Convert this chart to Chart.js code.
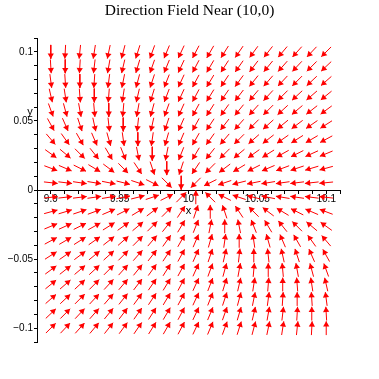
<!DOCTYPE html>
<html><head><meta charset="utf-8">
<script src="https://cdn.jsdelivr.net/npm/chart.js@4/dist/chart.umd.min.js"></script>
<style>html,body{margin:0;padding:0;background:#fff}#wrap{width:379px;height:379px;position:relative}</style>
</head><body><div id="wrap"><canvas id="c"></canvas></div>
<script>
const chartTitle = 'Direction Field Near (10,0)';
const xAxisLabel = 'x';
const yAxisLabel = 'y';
const xRange = [9.89, 10.11];
const yRange = [-0.11, 0.11];
const minorStep = 0.01;
const xMajorTicks = [9.9, 9.95, 10, 10.05, 10.1];
const xTickLabels = ['9.9', '9.95', '10', '10.05', '10.1'];
const yMajorTicks = [0.1, 0.05, 0, -0.05, -0.1];
const yTickLabels = ['0.1', '0.05', '0', '\u22120.05', '\u22120.1'];

// arrow grid (columns and rows)
const xGrid = [9.9, 9.9105, 9.9211, 9.9316, 9.9421, 9.9526, 9.9632, 9.9737, 9.9842, 9.9947,
               10.0053, 10.0158, 10.0263, 10.0368, 10.0474, 10.0579, 10.0684, 10.0789, 10.0895, 10.1];
const yGrid = [0.1, 0.0895, 0.0789, 0.0684, 0.0579, 0.0474, 0.0368, 0.0263, 0.0158, 0.0053,
               -0.0053, -0.0158, -0.0263, -0.0368, -0.0474, -0.0579, -0.0684, -0.0789, -0.0895, -0.1];

// direction components per row (top row first): horizontal part per column, vertical part per row
const fieldU = [
  [0,-1,-2,-3,-4,-5,-6,-7,-8,-9,-10,-11,-12,-13,-14,-15,-16,-17,-18,-19],
  [1,0,-1,-2,-3,-4,-5,-6,-7,-8,-9,-10,-11,-12,-13,-14,-15,-16,-17,-18],
  [2,1,0,-1,-2,-3,-4,-5,-6,-7,-8,-9,-10,-11,-12,-13,-14,-15,-16,-17],
  [3,2,1,0,-1,-2,-3,-4,-5,-6,-7,-8,-9,-10,-11,-12,-13,-14,-15,-16],
  [4,3,2,1,0,-1,-2,-3,-4,-5,-6,-7,-8,-9,-10,-11,-12,-13,-14,-15],
  [5,4,3,2,1,0,-1,-2,-3,-4,-5,-6,-7,-8,-9,-10,-11,-12,-13,-14],
  [6,5,4,3,2,1,0,-1,-2,-3,-4,-5,-6,-7,-8,-9,-10,-11,-12,-13],
  [7,6,5,4,3,2,1,0,-1,-2,-3,-4,-5,-6,-7,-8,-9,-10,-11,-12],
  [8,7,6,5,4,3,2,1,0,-1,-2,-3,-4,-5,-6,-7,-8,-9,-10,-11],
  [9,8,7,6,5,4,3,2,1,0,-1,-2,-3,-4,-5,-6,-7,-8,-9,-10],
  [10,9,8,7,6,5,4,3,2,1,0,-1,-2,-3,-4,-5,-6,-7,-8,-9],
  [11,10,9,8,7,6,5,4,3,2,1,0,-1,-2,-3,-4,-5,-6,-7,-8],
  [12,11,10,9,8,7,6,5,4,3,2,1,0,-1,-2,-3,-4,-5,-6,-7],
  [13,12,11,10,9,8,7,6,5,4,3,2,1,0,-1,-2,-3,-4,-5,-6],
  [14,13,12,11,10,9,8,7,6,5,4,3,2,1,0,-1,-2,-3,-4,-5],
  [15,14,13,12,11,10,9,8,7,6,5,4,3,2,1,0,-1,-2,-3,-4],
  [16,15,14,13,12,11,10,9,8,7,6,5,4,3,2,1,0,-1,-2,-3],
  [17,16,15,14,13,12,11,10,9,8,7,6,5,4,3,2,1,0,-1,-2],
  [18,17,16,15,14,13,12,11,10,9,8,7,6,5,4,3,2,1,0,-1],
  [19,18,17,16,15,14,13,12,11,10,9,8,7,6,5,4,3,2,1,0]
];
const fieldV = [-19,-17,-15,-13,-11,-9,-7,-5,-3,-1,1,3,5,7,9,11,13,15,17,19];

// build arrow shafts and heads in data units
const gridStep = (xGrid[xGrid.length - 1] - xGrid[0]) / (xGrid.length - 1);
const arrowLen = gridStep * 0.95;
const headBack = gridStep * 0.24;
const shafts = [], heads = [], headRot = [];
for (let j = 0; j < yGrid.length; j++) {
  for (let i = 0; i < xGrid.length; i++) {
    const u = fieldU[j][i], v = fieldV[j];
    const m = Math.hypot(u, v);
    const ux = u / m, uy = v / m;
    const cx = xGrid[i], cy = yGrid[j];
    const tx = cx + ux * arrowLen / 2, ty = cy + uy * arrowLen / 2;
    shafts.push({x: cx - ux * arrowLen / 2, y: cy - uy * arrowLen / 2});
    shafts.push({x: tx, y: ty});
    shafts.push({x: tx, y: null});
    heads.push({x: tx - ux * headBack, y: ty - uy * headBack});
    headRot.push(90 - Math.atan2(v, u) * 180 / Math.PI);
  }
}

function labelFor(v, majors, labels) {
  for (let k = 0; k < majors.length; k++) {
    if (Math.abs(v - majors[k]) < 1e-6) return labels[k];
  }
  return '';
}

const yLabelPlugin = {
  id: 'yLabel',
  afterDraw(chart) {
    const ctx = chart.ctx, area = chart.chartArea;
    ctx.save();
    ctx.font = '11px "Liberation Sans"';
    ctx.fillStyle = '#000';
    ctx.textAlign = 'center';
    ctx.textBaseline = 'middle';
    ctx.fillText(yAxisLabel, area.left - 7, area.top + 74);
    ctx.restore();
  }
};

new Chart(document.getElementById('c'), {
  type: 'scatter',
  data: {
    datasets: [
      { data: shafts, showLine: true, spanGaps: false, borderColor: '#ff0000', borderWidth: 1,
        pointRadius: 0, pointHoverRadius: 0, fill: false },
      { data: heads, pointStyle: 'triangle', pointRotation: headRot, pointRadius: 3.6,
        pointBackgroundColor: '#ff0000', pointBorderColor: '#ff0000', pointBorderWidth: 0 }
    ]
  },
  options: {
    responsive: true, maintainAspectRatio: false, animation: false,
    layout: { padding: { left: 0, top: 0, right: 0, bottom: 37 } },
    plugins: {
      legend: { display: false }, tooltip: { enabled: false },
      title: { display: true, text: chartTitle, color: '#000',
        font: { family: 'Liberation Serif', size: 15.5, weight: 'normal' },
        padding: { top: 1.5, bottom: 17.9 } }
    },
    scales: {
      x: {
        type: 'linear', min: xRange[0], max: xRange[1], position: { y: 0 },
        afterFit: s => { s.height = 28; },
        ticks: { stepSize: minorStep, autoSkip: false, maxRotation: 0, minRotation: 0, padding: 0,
          color: '#000', font: { family: 'Liberation Sans', size: 10 },
          callback: v => labelFor(v, xMajorTicks, xTickLabels) },
        grid: { drawOnChartArea: false, drawTicks: true, tickLength: 3, color: '#000', lineWidth: 1 },
        border: { display: true, color: '#000', width: 1 },
        title: { display: true, text: xAxisLabel, color: '#000', padding: 0,
          font: { family: 'Liberation Sans', size: 11 } }
      },
      y: {
        type: 'linear', min: yRange[0], max: yRange[1], position: 'left',
        afterFit: s => { s.width = 37; },
        ticks: { stepSize: minorStep, autoSkip: false, padding: 1,
          color: '#000', font: { family: 'Liberation Sans', size: 10 },
          callback: v => labelFor(v, yMajorTicks, yTickLabels) },
        grid: { drawOnChartArea: false, drawTicks: true, tickLength: 3, color: '#000', lineWidth: 1 },
        border: { display: true, color: '#000', width: 1 }
      },
      yRightMargin: {
        type: 'linear', min: yRange[0], max: yRange[1], position: 'right',
        afterFit: s => { s.width = 39; },
        ticks: { display: false }, grid: { display: false, drawTicks: false }, border: { display: false }
      }
    }
  },
  plugins: [yLabelPlugin]
});
</script></body></html>
